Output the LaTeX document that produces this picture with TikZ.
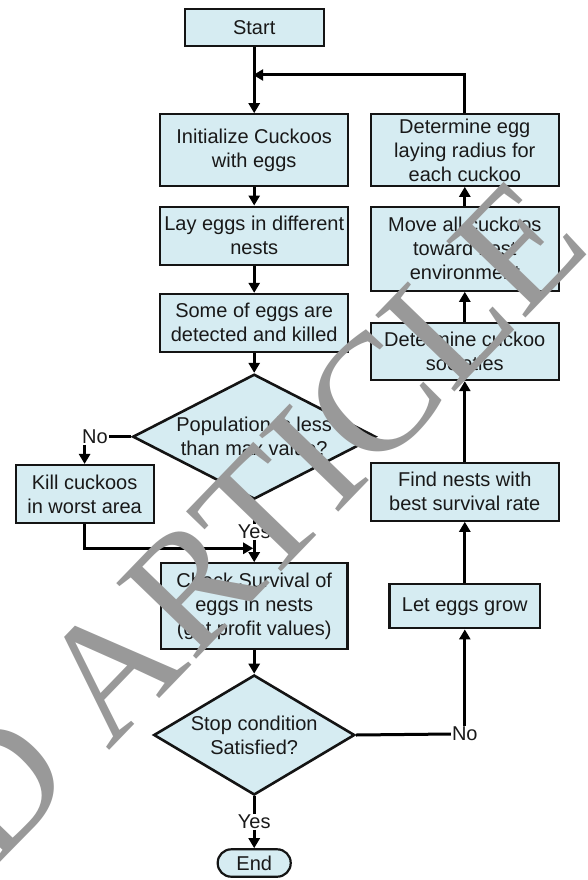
\documentclass[tikz,border=0pt]{standalone}
\usepackage{fontspec}
\setmainfont{Liberation Sans}
\newfontfamily\stampfont{Liberation Serif}
\usetikzlibrary{arrows.meta,shapes.geometric,calc}

\definecolor{boxblue}{RGB}{214,236,242}
\definecolor{edge}{RGB}{20,20,20}
\definecolor{ink}{RGB}{25,25,25}
\definecolor{stampgray}{RGB}{153,153,153}

\tikzset{
  stepbox/.style={rectangle, draw=edge, line width=2.2pt, fill=boxblue,
    text=ink, align=center, inner sep=0pt,
    font=\fontsize{20}{24}\selectfont},
  decision/.style={diamond, draw=edge, line width=2.6pt, fill=boxblue,
    text=ink, align=center, inner sep=0pt,
    font=\fontsize{20}{24}\selectfont},
  terminal/.style={stepbox, rounded corners=13.5pt},
  answer/.style={inner sep=1pt, text=ink, font=\fontsize{20}{24}\selectfont},
  flow/.style={line width=3pt, draw=black},
  arr/.style={flow, -{Triangle[length=10pt,width=11pt]}},
  stamp/.style={inner sep=0pt, text=stampgray,
    font=\stampfont\fontsize{168}{168}\selectfont}
}

\begin{document}
\begin{tikzpicture}[x=1pt,y=-1pt]
\path[use as bounding box] (0,0) rectangle (587,880);

% main column
\node[stepbox, minimum width=139, minimum height=37] (start) at (254.2,27.3) {Start};
\node[stepbox, minimum width=188, minimum height=71.4] (init) at (254.2,150) {Initialize Cuckoos\\with eggs};
\node[stepbox, minimum width=188, minimum height=58.3] (lay) at (254.2,235.8) {Lay eggs in different\\nests};
\node[stepbox, minimum width=188, minimum height=57.7] (some) at (254.2,322.8) {Some of eggs are\\detected and killed};
\node[decision, aspect=1.95, minimum width=243, minimum height=125] (pop) at (254.2,436.7) {Population is less\\than max value?};
\node[answer] (no1) at (95,436.7) {No};
\node[stepbox, minimum width=138, minimum height=58.3] (kill) at (84.6,494.2) {Kill cuckoos\\in worst area};
\node[answer] (yes1) at (254.2,531.7) {Yes};
\coordinate (merge) at (254.2,548.3);
\node[stepbox, minimum width=186.4, minimum height=86] (check) at (254.2,606.3) {Check Survival of\\eggs in nests\\(get profit values)};
\node[decision, aspect=1.675, minimum width=201, minimum height=120] (stop) at (254.2,735) {Stop condition\\Satisfied?};
\node[answer] (no2) at (464.8,734) {No};
\node[answer] (yes2) at (254.2,821.7) {Yes};
\node[terminal, minimum width=73, minimum height=27.4] (end) at (254.2,863) {End};

% right column
\node[stepbox, minimum width=188.4, minimum height=71.4] (detegg) at (464.8,150) {Determine egg\\laying radius for\\each cuckoo};
\node[stepbox, minimum width=188.4, minimum height=84] (move) at (464.8,248.7) {Move all cuckoos\\toward best\\environment};
\node[stepbox, minimum width=188.4, minimum height=56.7] (soc) at (464.8,351.7) {Determine cuckoo\\societies};
\node[stepbox, minimum width=188.4, minimum height=58] (find) at (464.8,491.7) {Find nests with\\best survival rate};
\node[stepbox, minimum width=150.5, minimum height=44] (grow) at (464.8,606.3) {Let eggs grow};
\coordinate (loopR) at (464.8,75);
\coordinate (loopL) at (254.2,75);

% connectors
\draw[arr] (start) -- (init);
\draw[arr, shorten >=-1pt] (detegg) -- (loopR) -- (loopL);
\draw[arr] (init) -- (lay);
\draw[arr] (lay) -- (some);
\draw[arr] (some) -- (pop);
\draw[flow] (pop.west) -- (no1.east);
\draw[arr] (no1.south -| kill.north) -- (kill.north);
\draw[flow] (pop.south) -- (yes1.north);
\draw[arr] (yes1.south) -- (check.north);
\draw[arr, shorten >=1pt] (kill.south) |- (merge);
\draw[arr] (check) -- (stop);
\draw[flow] (stop.east) -- (no2.west);
\draw[arr] (no2.north) -- (grow.south);
\draw[flow] (stop.south) -- (yes2.north);
\draw[arr] (yes2.south) -- (end.north);
\draw[arr] (grow) -- (find);
\draw[arr] (find) -- (soc);
\draw[arr] (soc) -- (move);
\draw[arr] (move) -- (detegg);

% diagonal stamp across the page
\begin{scope}
\clip (0,0) rectangle (587,880);
\node[stamp, rotate=46, anchor=base east] (stampText) at (594,248) {RETRACTED ARTICLE};
\end{scope}
\end{tikzpicture}
\end{document}
